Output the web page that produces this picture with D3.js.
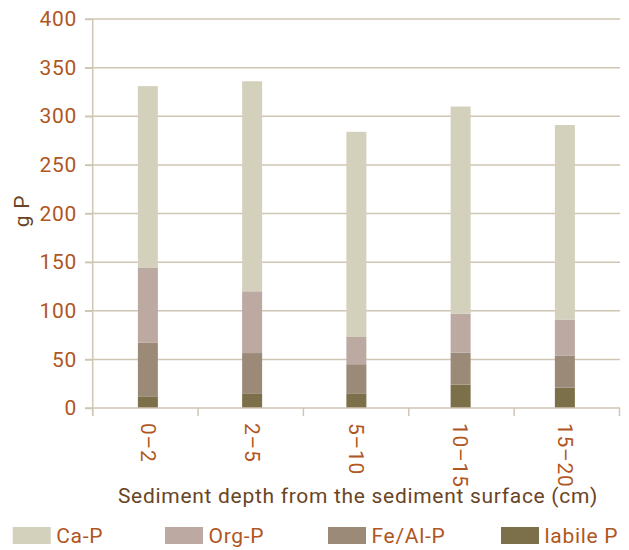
<!DOCTYPE html>
<html>
<head>
<meta charset="utf-8">
<script src="https://cdn.jsdelivr.net/npm/d3@7"></script>
<style>
html,body{margin:0;padding:0;background:#fff;}
svg{display:block;}
text{font-family:Roboto,"DejaVu Sans Condensed",sans-serif;letter-spacing:0.7px;}
</style>
</head>
<body>
<svg id="chart" width="629" height="550"></svg>
<script>
const categories = ["0–2", "2–5", "5–10", "10–15", "15–20"];
const labileP = [12, 14.5, 14.5, 24, 21];
const feAlP = [55, 42, 30.5, 33, 33];
const orgP = [77, 63.5, 28, 40, 37];
const caP = [187, 216, 211, 213, 200];
const seriesNames = ["labile P", "Fe/Al-P", "Org-P", "Ca-P"];
const legendOrder = ["Ca-P", "Org-P", "Fe/Al-P", "labile P"];
const yTicks = [0, 50, 100, 150, 200, 250, 300, 350, 400];
const xTitle = "Sediment depth from the sediment surface (cm)";
const yTitle = "g P";

const colors = {"Ca-P": "#d3d1bc", "Org-P": "#bba9a2", "Fe/Al-P": "#9b8a77", "labile P": "#7b7049"};
const gridColor = "#cfc6b3";
const tickColor = "#b0561f";
const titleColor = "#6a4424";

const rows = categories.map((c, i) => ({
  cat: c, "labile P": labileP[i], "Fe/Al-P": feAlP[i], "Org-P": orgP[i], "Ca-P": caP[i]
}));
const stacked = d3.stack().keys(seriesNames)(rows);

const svg = d3.select("#chart");
const pLeft = 92.7, pRight = 619.5, pTop = 19, pBottom = 408;

const x = d3.scaleBand().domain(categories).range([pLeft, pRight]).padding(0);
const xBar = d3.scaleBand().domain(categories).range([95.75, 617]).padding(0);
const y = d3.scaleLinear().domain([0, 400]).range([pBottom, pTop]);

// gridlines
svg.append("g").selectAll("line").data(yTicks.filter(t => t > 0)).join("line")
  .attr("x1", pLeft - 7.7).attr("x2", pRight + 0.5)
  .attr("y1", d => y(d)).attr("y2", d => y(d))
  .attr("stroke", gridColor).attr("stroke-width", 1.5);

// y axis
const yAxis = svg.append("g").attr("transform", `translate(${pLeft},0)`)
  .call(d3.axisLeft(y).tickValues(yTicks).tickSize(7.7).tickPadding(8));
yAxis.select(".domain").attr("stroke", gridColor).attr("stroke-width", 1.5)
  .attr("d", `M0,${pTop}V${pBottom + 8}`);
yAxis.selectAll(".tick line").attr("stroke", gridColor).attr("stroke-width", 1.5);
yAxis.selectAll(".tick text").attr("fill", tickColor).style("font-size", "21px");

// bars
const barW = 20;
svg.append("g").selectAll("g").data(stacked).join("g")
  .attr("fill", d => colors[d.key])
  .selectAll("rect").data(d => d).join("rect")
  .attr("x", d => xBar(d.data.cat) + xBar.bandwidth() / 2 - barW / 2)
  .attr("width", barW)
  .attr("y", d => y(d[1]))
  .attr("height", d => y(d[0]) - y(d[1]));

// x axis
const boundaries = categories.map(c => x(c)).concat([x(categories[categories.length - 1]) + x.bandwidth()]);
svg.append("line").attr("x1", pLeft - 7.7).attr("x2", pRight + 0.5)
  .attr("y1", pBottom).attr("y2", pBottom)
  .attr("stroke", gridColor).attr("stroke-width", 1.5);
svg.append("g").selectAll("line").data(boundaries).join("line")
  .attr("x1", d => d).attr("x2", d => d)
  .attr("y1", pBottom).attr("y2", pBottom + 8)
  .attr("stroke", gridColor).attr("stroke-width", 1.5);
svg.append("g").selectAll("text").data(categories).join("text")
  .attr("transform", d => `translate(${xBar(d) + xBar.bandwidth() / 2},${pBottom + 15}) rotate(90)`)
  .attr("dy", "0.35em")
  .attr("text-anchor", "start")
  .attr("fill", tickColor)
  .style("font-size", "21px")
  .text(d => d);

// axis titles
svg.append("text").attr("x", 358).attr("y", 503)
  .attr("text-anchor", "middle").attr("fill", titleColor)
  .style("font-size", "21px").text(xTitle);
svg.append("text").attr("transform", "translate(29,211) rotate(-90)")
  .attr("text-anchor", "middle").attr("fill", titleColor)
  .style("font-size", "21px").text(yTitle);

// legend
const legendX = [12.7, 165, 328, 501];
const lg = svg.append("g").selectAll("g").data(legendOrder).join("g")
  .attr("transform", (d, i) => `translate(${legendX[i]},527)`);
lg.append("rect").attr("width", 38).attr("height", 17).attr("fill", d => colors[d]);
lg.append("text").attr("x", 43.5).attr("y", 16.3).attr("fill", tickColor)
  .style("font-size", "21px").text(d => d);
</script>
</body>
</html>
